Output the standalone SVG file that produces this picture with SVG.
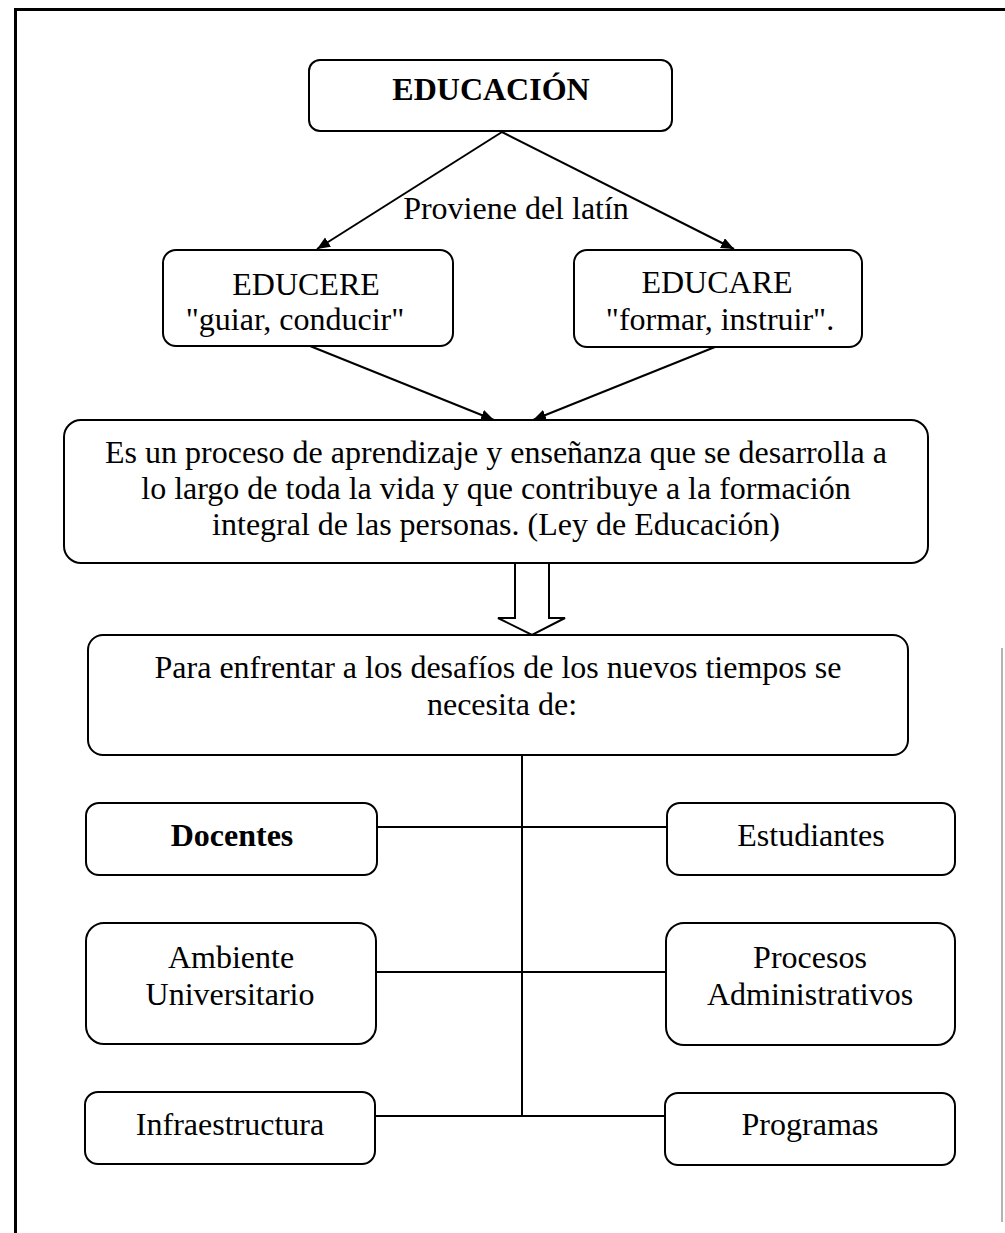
<svg xmlns="http://www.w3.org/2000/svg" width="1005" height="1233" viewBox="0 0 1005 1233">
<defs>
<marker id="ah" markerUnits="userSpaceOnUse" markerWidth="14" markerHeight="12" refX="13" refY="5.5" orient="auto">
<path d="M0,0 L13,5.5 L0,11 z" fill="#000"/>
</marker>
<style>
.box{fill:#fff;stroke:#000;stroke-width:2}
.t{font-family:"Liberation Serif","Times New Roman",serif;font-size:32px;fill:#000;text-anchor:middle}
.b{font-weight:bold}
.ln{stroke:#000;stroke-width:2;fill:none}
</style>
</defs>
<rect width="1005" height="1233" fill="#fff"/>
<path d="M15.5,1233 V9.5 H1005" fill="none" stroke="#000" stroke-width="3"/>
<line x1="1002" y1="648" x2="1002" y2="1222" stroke="#9a9a9a" stroke-width="1.5"/>

<g id="connectors">
<line class="ln" x1="502" y1="132" x2="317" y2="249" marker-end="url(#ah)"/>
<line class="ln" x1="502" y1="132" x2="734" y2="249" marker-end="url(#ah)"/>
<line class="ln" x1="310" y1="346" x2="494" y2="420" marker-end="url(#ah)"/>
<line class="ln" x1="715" y1="347" x2="533" y2="420" marker-end="url(#ah)"/>
<polygon points="515,563 549,563 549,618 565,618 532,635 498,618 515,618" fill="#fff" stroke="#000" stroke-width="2"/>
<line class="ln" x1="522" y1="755" x2="522" y2="1117"/>
<line class="ln" x1="377" y1="827" x2="667" y2="827"/>
<line class="ln" x1="376" y1="972" x2="666" y2="972"/>
<line class="ln" x1="375" y1="1116" x2="665" y2="1116"/>
<text class="t" x="516" y="219">Proviene del latín</text>
</g>

<g id="n-educacion">
<rect class="box" x="309" y="60" width="363" height="71" rx="11"/>
<text class="t b" x="491" y="100" font-size="30">EDUCACIÓN</text>
</g>
<g id="n-educere">
<rect class="box" x="163" y="250" width="290" height="96" rx="13"/>
<text class="t" x="306" y="295">EDUCERE</text>
<text class="t" x="295" y="330">"guiar, conducir"</text>
</g>
<g id="n-educare">
<rect class="box" x="574" y="250" width="288" height="97" rx="13"/>
<text class="t" x="717" y="293">EDUCARE</text>
<text class="t" x="720" y="330">"formar, instruir".</text>
</g>
<g id="n-proceso">
<rect class="box" x="64" y="420" width="864" height="143" rx="17"/>
<text class="t" x="496" y="463">Es un proceso de aprendizaje y enseñanza que se desarrolla a</text>
<text class="t" x="496" y="499">lo largo de toda la vida y que contribuye a la formación</text>
<text class="t" x="496" y="535">integral de las personas. (Ley de Educación)</text>
</g>
<g id="n-desafios">
<rect class="box" x="88" y="635" width="820" height="120" rx="15"/>
<text class="t" x="498" y="678">Para enfrentar a los desafíos de los nuevos tiempos se</text>
<text class="t" x="502" y="715">necesita de:</text>
</g>
<g id="n-docentes">
<rect class="box" x="86" y="803" width="291" height="72" rx="13"/>
<text class="t b" x="232" y="846">Docentes</text>
</g>
<g id="n-estudiantes">
<rect class="box" x="667" y="803" width="288" height="72" rx="13"/>
<text class="t" x="811" y="846">Estudiantes</text>
</g>
<g id="n-ambiente">
<rect class="box" x="86" y="923" width="290" height="121" rx="18"/>
<text class="t" x="231" y="968">Ambiente</text>
<text class="t" x="230" y="1005">Universitario</text>
</g>
<g id="n-procesos">
<rect class="box" x="666" y="923" width="289" height="122" rx="18"/>
<text class="t" x="810" y="968">Procesos</text>
<text class="t" x="810" y="1005">Administrativos</text>
</g>
<g id="n-infra">
<rect class="box" x="85" y="1092" width="290" height="72" rx="13"/>
<text class="t" x="230" y="1135">Infraestructura</text>
</g>
<g id="n-programas">
<rect class="box" x="665" y="1093" width="290" height="72" rx="13"/>
<text class="t" x="810" y="1135">Programas</text>
</g>
</svg>
